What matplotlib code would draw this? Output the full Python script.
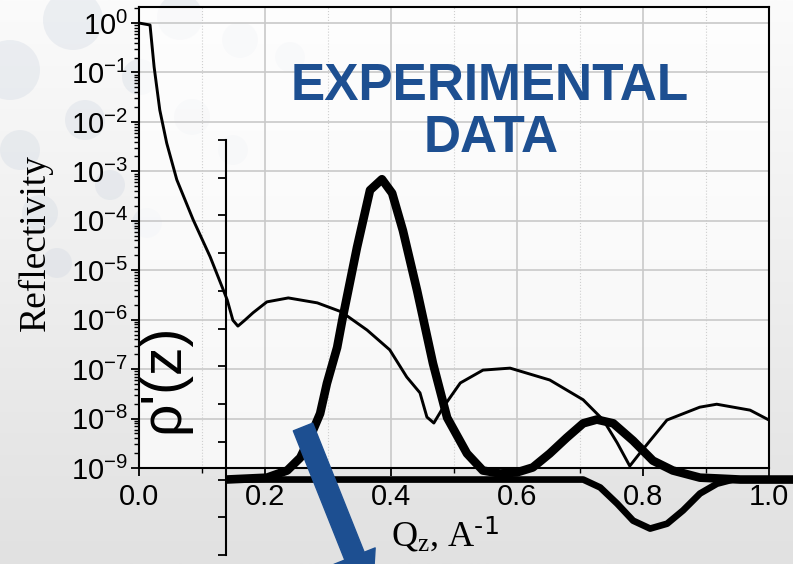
import numpy as np
import matplotlib
matplotlib.use('Agg')
import matplotlib.pyplot as plt
from matplotlib.patches import Circle, FancyArrowPatch
from matplotlib.colors import LinearSegmentedColormap
from matplotlib.ticker import MultipleLocator, LogLocator, NullFormatter, FormatStrFormatter

plt.rcParams['font.family'] = ['Liberation Sans', 'DejaVu Sans']
plt.rcParams['mathtext.default'] = 'regular'

# reflectivity curve (log10 of R)
q_z = [0.0, 0.0175, 0.024, 0.033, 0.044, 0.060, 0.086, 0.113, 0.132, 0.140,
       0.149, 0.157, 0.168, 0.181, 0.203, 0.237, 0.283, 0.321, 0.362, 0.398,
       0.425, 0.446, 0.457, 0.468, 0.483, 0.510, 0.546, 0.589, 0.652, 0.705,
       0.737, 0.759, 0.779, 0.795, 0.838, 0.890, 0.917, 0.970, 1.0]
log_refl = [0.0, -0.04, -0.89, -1.76, -2.43, -3.17, -3.98, -4.73, -5.34, -5.60,
            -6.01, -6.13, -6.01, -5.86, -5.64, -5.56, -5.66, -5.84, -6.21, -6.61,
            -7.16, -7.48, -7.97, -8.09, -7.77, -7.28, -7.02, -6.98, -7.22, -7.62,
            -8.03, -8.49, -8.96, -8.70, -8.03, -7.77, -7.71, -7.83, -8.03]

# density derivative profile (inset), arbitrary units
z_peak = [0.0, 0.072, 0.108, 0.131, 0.148, 0.166, 0.178, 0.196, 0.206, 0.231,
          0.254, 0.275, 0.293, 0.312, 0.337, 0.365, 0.390, 0.425, 0.453, 0.483,
          0.513, 0.541, 0.571, 0.601, 0.630, 0.654, 0.683, 0.718, 0.753, 0.788,
          0.836, 0.866, 0.907, 1.0]
rho_peak = [0.0, 0.005, 0.024, 0.058, 0.111, 0.175, 0.255, 0.350, 0.430, 0.615,
            0.767, 0.796, 0.759, 0.660, 0.501, 0.308, 0.164, 0.069, 0.024, 0.016,
            0.019, 0.032, 0.069, 0.111, 0.149, 0.159, 0.149, 0.103, 0.050, 0.024,
            0.005, 0.003, 0.0, 0.0]
z_dip = [0.0, 0.630, 0.660, 0.690, 0.718, 0.748, 0.778, 0.806, 0.836, 0.866, 0.894, 1.0]
rho_dip = [0.0, 0.0, -0.021, -0.064, -0.109, -0.130, -0.117, -0.082, -0.037, -0.011, 0.0, 0.0]

# faint background bubbles (x, y from top, radius) in pixels
bubbles = [(73, 20, 30), (10, 70, 30), (180, 17, 23), (240, 40, 18), (140, 77, 18),
           (85, 120, 20), (192, 117, 18), (20, 150, 20), (233, 150, 15), (147, 223, 15),
           (110, 185, 15), (40, 213, 18), (57, 263, 15), (290, 57, 15)]

blue = '#1d4f91'
W, H = 793, 564

fig = plt.figure(figsize=(W / 100, H / 100), dpi=100)

# background gradient + bubbles
bg = fig.add_axes([0, 0, 1, 1])
grad = np.linspace(0, 1, 256).reshape(-1, 1)
bg.imshow(grad, cmap=LinearSegmentedColormap.from_list('bg', ['#fbfbfb', '#e1e1e1']),
          aspect='auto', extent=[0, W, 0, H])
for bx, by, br in bubbles:
    bg.add_patch(Circle((bx, H - by), br, color='#cdd5e1', alpha=0.32, lw=0))
bg.set_xlim(0, W)
bg.set_ylim(0, H)
bg.axis('off')

# main reflectivity plot
ax = fig.add_axes([139 / W, 96 / H, 630 / W, 461 / H])
ax.set_facecolor((1, 1, 1, 0.7))
ax.semilogy(q_z, 10 ** np.array(log_refl), color='black', lw=2.1)
ax.set_xlim(0, 1)
ax.set_ylim(1e-9, 2.11)
ax.xaxis.set_major_locator(MultipleLocator(0.2))
ax.xaxis.set_minor_locator(MultipleLocator(0.1))
ax.xaxis.set_major_formatter(FormatStrFormatter('%.1f'))
ax.yaxis.set_major_locator(LogLocator(base=10, numticks=20))
ax.yaxis.set_minor_locator(LogLocator(base=10, subs=np.arange(2, 10), numticks=20))
ax.yaxis.set_minor_formatter(NullFormatter())
ax.grid(which='major', color='#c9c9c9', lw=1.2)
ax.grid(which='minor', axis='x', color='#cfcfcf', lw=0.8, ls=':')
ax.set_axisbelow(True)
ax.tick_params(which='major', labelsize=21, width=1.3, length=6)
ax.tick_params(which='minor', width=1.0, length=3.5)
ax.tick_params(axis='x', pad=5)
ax.tick_params(axis='y', pad=2)
for s in ax.spines.values():
    s.set_linewidth(1.5)

fig.text(35 / W, 1 - 243 / H, 'Reflectivity', rotation=90, ha='center', va='center',
         family='Liberation Serif', fontsize=27)
fig.text(445 / W, 1 - 535 / H, r'Q$_z$, A$^{\text{-1}}$', ha='center', va='center',
         family='Liberation Serif', fontsize=26)

fig.text(490 / W, 1 - 100 / H, 'EXPERIMENTAL', ha='center', va='baseline',
         fontsize=37, fontweight='bold', color=blue)
fig.text(491 / W, 1 - 152 / H, 'DATA', ha='center', va='baseline',
         fontsize=37, fontweight='bold', color=blue)

# inset with rho'(z)
ins = fig.add_axes([226 / W, 9 / H, 567 / W, 415 / H])
ins.patch.set_alpha(0)
for side in ['top', 'right', 'bottom']:
    ins.spines[side].set_visible(False)
ins.spines['left'].set_linewidth(1.5)
ins.set_xlim(0, 1)
ins.set_ylim(-0.2, 0.9)
ins.yaxis.set_major_locator(MultipleLocator(0.1))
ins.tick_params(axis='y', labelleft=False, length=6, width=1.3)
ins.set_xticks([])
ins.plot(z_dip, rho_dip, color='black', lw=4.8)
ins.plot(z_peak, rho_peak, color='black', lw=6.2)

fig.text(163 / W, 1 - 378 / H, "ρ'(z)", rotation=90, ha='center', va='center', fontsize=41)

arrow = FancyArrowPatch((3.03, 1.37), (3.72, -0.36),
                        arrowstyle='simple,head_length=1.7,head_width=1.6,tail_width=0.75',
                        mutation_scale=20, color=blue, shrinkA=0, shrinkB=0,
                        transform=fig.dpi_scale_trans, zorder=10)
fig.add_artist(arrow)

fig.savefig('out.png', dpi=100)
